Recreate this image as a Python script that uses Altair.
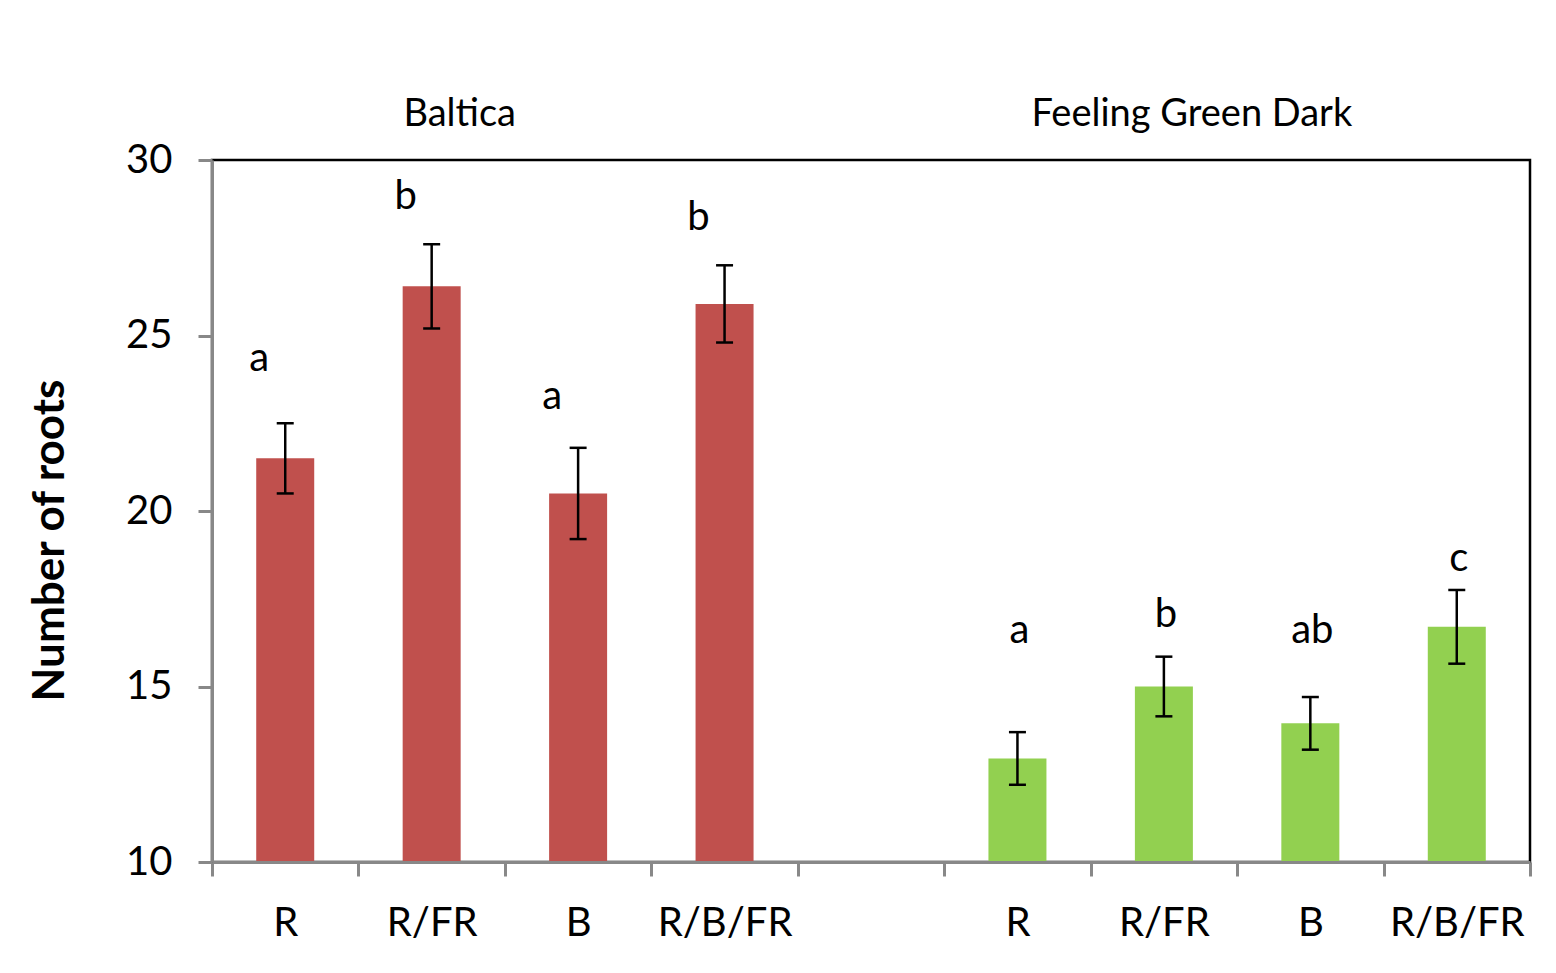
import altair as alt
import pandas as pd

FONT = "Lato"

# ---- data ----
groups = ["Baltica"] * 4 + ["Feeling Green Dark"] * 4
treatments = ["R", "R/FR", "B", "R/B/FR", "R", "R/FR", "B", "R/B/FR"]
roots_mean = [21.5, 26.4, 20.5, 25.9, 12.95, 15.0, 13.95, 16.7]
roots_err = [1.0, 1.2, 1.3, 1.1, 0.75, 0.85, 0.75, 1.05]
letters = ["a", "b", "a", "b", "a", "b", "ab", "c"]
letter_y = [24.0, 28.6, 22.9, 28.0, 16.25, 16.7, 16.25, 18.3]
bar_colors = {"Baltica": "#C0504D", "Feeling Green Dark": "#92D050"}
y_ticks = [10, 15, 20, 25, 30]
y_min, y_max = 10, 30

keys = [f"{t}|{g}" for t, g in zip(treatments, groups)]
gap_key = " |gap"
x_domain = keys[:4] + [gap_key] + keys[4:]

df = pd.DataFrame({
    "key": keys,
    "group": groups,
    "treatment": treatments,
    "mean": roots_mean,
    "err": roots_err,
    "letter": letters,
    "letter_y": letter_y,
})
df["lo"] = df["mean"] - df["err"]
df["hi"] = df["mean"] + df["err"]

titles_df = pd.DataFrame({"key": [keys[1], keys[5]], "name": ["Baltica", "Feeling Green Dark"]})

x_scale = alt.Scale(domain=x_domain, paddingInner=0, paddingOuter=0)
y_scale = alt.Scale(domain=[y_min, y_max], nice=False, zero=False)

x_enc = alt.X(
    "key:N", scale=x_scale, sort=x_domain, title=None,
    axis=alt.Axis(
        labelExpr="isValid(datum.value) ? split(datum.value, '|')[0] : ''",
        labelAngle=0, tickBand="extent",
        labelFont=FONT, labelFontSize=40, labelColor="black", labelPadding=27,
        tickSize=14, tickColor="#888888", tickWidth=3,
        domainColor="#888888", domainWidth=3, zindex=1,
    ),
)

y_enc = alt.Y(
    "mean:Q", scale=y_scale,
    axis=alt.Axis(
        values=y_ticks, title="Number of roots", grid=False,
        labelFont=FONT, labelFontSize=40, labelColor="black", labelPadding=26,
        tickSize=14, tickColor="#888888", tickWidth=3,
        domainColor="#888888", domainWidth=3, zindex=1,
        titleFont=FONT, titleFontSize=44, titleFontWeight="bold", titleColor="black",
        titleAngle=270, titleX=-149, titleY=380, titleAlign="center",
        titleBaseline="alphabetic",
    ),
)

base = alt.Chart(df)

bars = base.mark_bar(size=58).encode(
    x=x_enc,
    y=y_enc,
    y2=alt.datum(y_min),
    color=alt.Color("group:N", scale=alt.Scale(domain=list(bar_colors.keys()),
                                                range=list(bar_colors.values())), legend=None),
)

err_rule = base.mark_rule(color="black", strokeWidth=2.5).encode(
    x=alt.X("key:N", scale=x_scale, sort=x_domain),
    y=alt.Y("lo:Q", scale=y_scale),
    y2="hi:Q",
)
cap_lo = base.mark_tick(color="black", size=17, thickness=2.5, opacity=1).encode(
    x=alt.X("key:N", scale=x_scale, sort=x_domain),
    y=alt.Y("lo:Q", scale=y_scale),
)
cap_hi = base.mark_tick(color="black", size=17, thickness=2.5, opacity=1).encode(
    x=alt.X("key:N", scale=x_scale, sort=x_domain),
    y=alt.Y("hi:Q", scale=y_scale),
)

letters_b = base.transform_filter(alt.datum.group == "Baltica").mark_text(
    font=FONT, fontSize=40, color="black", baseline="alphabetic", dx=-26
).encode(
    x=alt.X("key:N", scale=x_scale, sort=x_domain),
    y=alt.Y("letter_y:Q", scale=y_scale),
    text="letter:N",
)
letters_g = base.transform_filter(alt.datum.group == "Feeling Green Dark").mark_text(
    font=FONT, fontSize=40, color="black", baseline="alphabetic", dx=2
).encode(
    x=alt.X("key:N", scale=x_scale, sort=x_domain),
    y=alt.Y("letter_y:Q", scale=y_scale),
    text="letter:N",
)

group_titles = alt.Chart(titles_df).mark_text(
    font=FONT, fontSize=38, color="black", baseline="alphabetic", dx=28
).encode(
    x=alt.X("key:N", scale=x_scale, sort=x_domain),
    y=alt.value(-34),
    text="name:N",
)

chart = alt.layer(bars, err_rule, cap_lo, cap_hi, letters_b, letters_g, group_titles).properties(
    width=1318,
    height=702,
    background="white",
    autosize=alt.AutoSizeParams(type="none"),
    padding={"left": 204, "top": 152, "right": 10, "bottom": 100},
).configure_view(
    stroke="black", strokeWidth=2.5
)

chart.save("out.html", embed_options={"renderer": "svg", "actions": False})
